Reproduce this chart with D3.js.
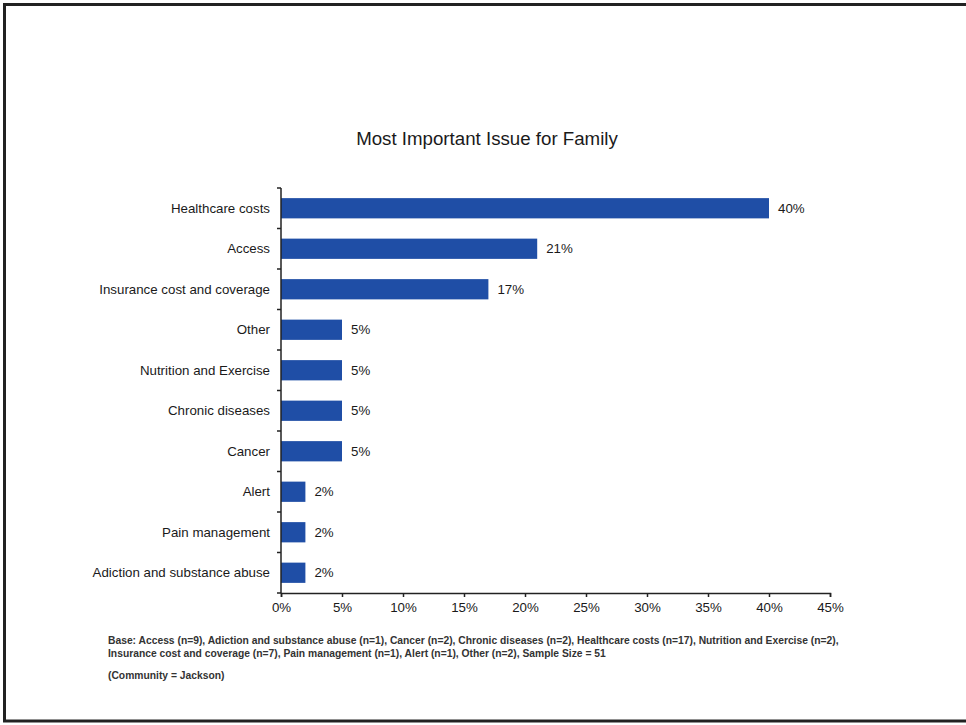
<!DOCTYPE html>
<html><head><meta charset="utf-8">
<script src="https://cdn.jsdelivr.net/npm/d3@7"></script>
<style>body{margin:0;background:#fff}svg{display:block}</style>
</head><body>
<script>
const categories = ["Healthcare costs","Access","Insurance cost and coverage","Other","Nutrition and Exercise","Chronic diseases","Cancer","Alert","Pain management","Adiction and substance abuse"];
const values = [40,21,17,5,5,5,5,2,2,2];
const tickValues = [0,5,10,15,20,25,30,35,40,45];
const title = "Most Important Issue for Family";
const notes = ["Base: Access (n=9), Adiction and substance abuse (n=1), Cancer (n=2), Chronic diseases (n=2), Healthcare costs (n=17), Nutrition and Exercise (n=2),",
"Insurance cost and coverage (n=7), Pain management (n=1), Alert (n=1), Other (n=2), Sample Size = 51",
"(Community = Jackson)"];

const W=966,H=725;
const svg=d3.select("body").append("svg").attr("width",W).attr("height",H);
const font="Liberation Sans, Arial, sans-serif";
svg.append("rect").attr("x",4.5).attr("y",4.5).attr("width",970).attr("height",716.5)
  .attr("fill","none").attr("stroke","#222").attr("stroke-width",3);

const x=d3.scaleLinear().domain([0,45]).range([281,830]);
const y=d3.scaleBand().domain(categories).range([188,593]).paddingInner(0.5).paddingOuter(0.25);

svg.append("text").attr("x",487).attr("y",145).attr("text-anchor","middle")
  .attr("font-family",font).attr("font-size",18.7).attr("fill","#1a1a1a").text(title);

svg.selectAll("rect.bar").data(values).enter().append("rect").attr("class","bar")
  .attr("x",x(0)).attr("y",(d,i)=>y(categories[i])).attr("width",d=>x(d)-x(0))
  .attr("height",y.bandwidth()).attr("fill","#1f4ea6");

svg.selectAll("text.val").data(values).enter().append("text").attr("class","val")
  .attr("x",d=>x(d)+9).attr("y",(d,i)=>y(categories[i])+y.bandwidth()/2+4.5)
  .attr("font-family",font).attr("font-size",13.3).attr("fill","#1a1a1a").text(d=>d+"%");

// y axis
const ya=svg.append("g");
ya.append("line").attr("x1",281).attr("x2",281).attr("y1",188).attr("y2",593).attr("stroke","#222").attr("stroke-width",1.5);
const step=y.step();
d3.range(categories.length+1).forEach(i=>{
  const yy=188+i*step;
  ya.append("line").attr("x1",277).attr("x2",281).attr("y1",yy).attr("y2",yy).attr("stroke","#222").attr("stroke-width",1.5);
});
svg.selectAll("text.cat").data(categories).enter().append("text").attr("class","cat")
  .attr("x",270).attr("y",d=>y(d)+y.bandwidth()/2+4.5).attr("text-anchor","end")
  .attr("font-family",font).attr("font-size",13.3).attr("fill","#1a1a1a").text(d=>d);

// x axis
const xa=svg.append("g").attr("transform","translate(0,593)")
  .call(d3.axisBottom(x).tickValues(tickValues).tickSize(4).tickFormat(d=>d+"%"));
xa.select(".domain").attr("stroke","#222").attr("stroke-width",1.5);
xa.selectAll(".tick line").attr("stroke","#222").attr("stroke-width",1.5);
xa.selectAll(".tick text").attr("font-family",font).attr("font-size",13.3).attr("fill","#1a1a1a").attr("dy","0.9em");

// notes
svg.selectAll("text.note").data(notes).enter().append("text").attr("class","note")
  .attr("x",108).attr("y",(d,i)=>[644,657,679][i])
  .attr("font-family",font).attr("font-size",10.3).attr("font-weight","bold").attr("fill","#333").text(d=>d);
</script>
</body></html>
